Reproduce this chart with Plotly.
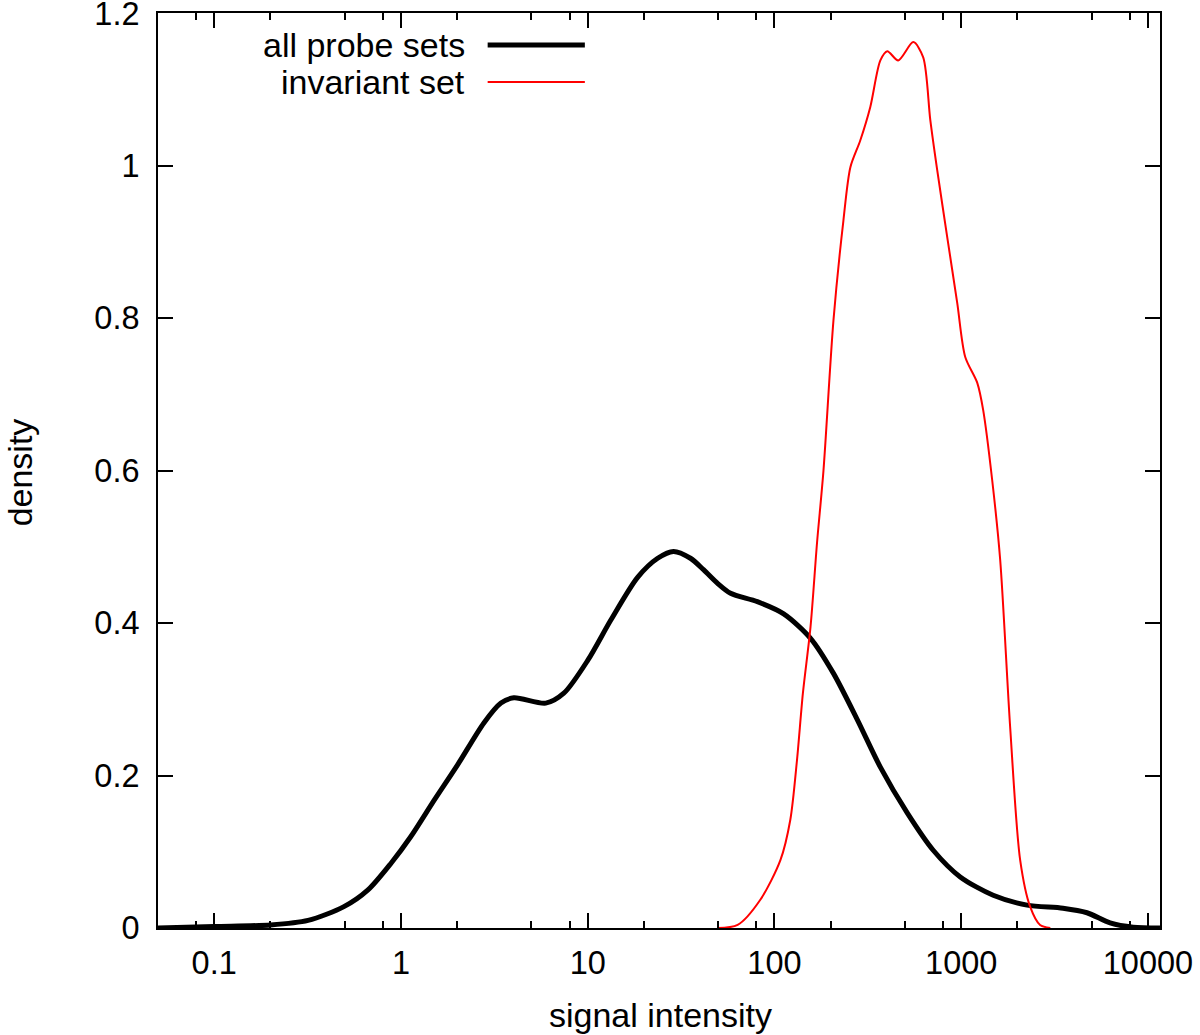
import plotly.graph_objects as go

# density of all probe sets (log-scale signal intensity)
all_x = [0.05, 0.1, 0.2, 0.318, 0.495, 0.666, 0.885, 1.13, 1.51, 2.01, 2.78, 3.43, 4.02,
         5.96, 7.45, 10, 13.3, 18.5, 23.7, 28.8, 35.5, 41.7, 49.6, 58.2, 81, 112, 156, 207,
         278, 369, 514, 708, 988, 1483, 2254, 3509, 4717, 6270, 8318, 11600]
all_y = [0.0, 0.002, 0.004, 0.01, 0.028, 0.05, 0.085, 0.12, 0.168, 0.214, 0.269, 0.295, 0.302,
         0.295, 0.308, 0.351, 0.404, 0.46, 0.485, 0.494, 0.485, 0.47, 0.452, 0.439, 0.428,
         0.412, 0.38, 0.334, 0.273, 0.211, 0.151, 0.102, 0.067, 0.043, 0.030, 0.026, 0.020,
         0.0066, 0.001, 0.0]

# density of the invariant set
inv_x = [49.6, 63.5, 84, 107.6, 121.6, 132, 142, 156, 169, 183, 207, 234, 255, 288, 326,
         369, 402, 460, 554, 626, 683, 744, 842, 952, 1051, 1219, 1312, 1466, 1617,
         1828, 2069, 2339, 2645, 3000]
inv_y = [0.0, 0.004, 0.037, 0.089, 0.142, 0.22, 0.308, 0.395, 0.505, 0.6, 0.797, 0.928, 0.998,
         1.033, 1.077, 1.138, 1.150, 1.138, 1.162, 1.142, 1.06, 0.994, 0.906, 0.82, 0.749,
         0.715, 0.679, 0.587, 0.483, 0.264, 0.089, 0.028, 0.004, 0.0]

x_ticks = [0.1, 1, 10, 100, 1000, 10000]
x_tick_labels = ['0.1', '1', '10', '100', '1000', '10000']
x_minor = [0.08, 0.2, 0.5, 0.8, 2, 5, 8, 20, 50, 80, 200, 500, 800, 2000, 5000, 8000]
y_ticks = [0, 0.2, 0.4, 0.6, 0.8, 1, 1.2]
y_tick_labels = ['0', '0.2', '0.4', '0.6', '0.8', '1', '1.2']

FONT = 'Liberation Sans, Arial, sans-serif'

fig = go.Figure()
fig.add_trace(go.Scatter(name='all probe sets', x=all_x, y=all_y, mode='lines',
                         line=dict(color='black', width=5, shape='spline', smoothing=0.8)))
fig.add_trace(go.Scatter(name='invariant set', x=inv_x, y=inv_y, mode='lines',
                         line=dict(color='#ff0000', width=2, shape='spline', smoothing=0.8)))

axis_common = dict(showgrid=False, zeroline=False, showline=True, linecolor='black',
                   linewidth=2, mirror='ticks', ticks='inside', tickwidth=2,
                   ticklen=15, tickcolor='black', ticklabeloverflow='allow',
                   automargin=False,
                   tickfont=dict(family=FONT, size=32.5, color='black'))

fig.update_xaxes(type='log', range=[-1.301, 4.0645], tickmode='array',
                 tickvals=x_ticks, ticktext=x_tick_labels, ticklabelstandoff=5,
                 minor=dict(tickmode='array', tickvals=x_minor, ticks='inside',
                            ticklen=7, tickwidth=2, tickcolor='black'),
                 **axis_common)
fig.update_yaxes(range=[0, 1.2002], tickmode='array', tickvals=y_ticks,
                 ticktext=y_tick_labels, ticklabelstandoff=10, **axis_common)

# gnuplot-style key: text right-aligned, sample line to its right
legend_rows = [('all probe sets', 'black', 5, 0.965), ('invariant set', '#ff0000', 2, 0.9246)]
shapes = []
annotations = []
for label, color, width, ypos in legend_rows:
    annotations.append(dict(text=label, x=0.308, y=ypos, xref='paper', yref='paper',
                            xanchor='right', yanchor='middle', showarrow=False,
                            font=dict(family=FONT, size=34, color='black')))
    shapes.append(dict(type='line', xref='paper', yref='paper', x0=0.329, x1=0.426,
                       y0=ypos, y1=ypos, line=dict(color=color, width=width)))

annotations.append(dict(text='signal intensity', x=0.501, y=-0.095, xref='paper', yref='paper',
                        xanchor='center', yanchor='middle', showarrow=False,
                        font=dict(family=FONT, size=34, color='black')))
annotations.append(dict(text='density', x=-0.1377, y=0.498, xref='paper', yref='paper',
                        xanchor='center', yanchor='middle', showarrow=False, textangle=-90,
                        font=dict(family=FONT, size=34, color='black')))

fig.update_layout(width=1200, height=1035, showlegend=False,
                  margin=dict(l=158, r=40, t=13, b=107),
                  plot_bgcolor='white', paper_bgcolor='white',
                  shapes=shapes, annotations=annotations)

# drop the default 8px body margin so the figure fills the window exactly
fig.write_html('out.html', config={'displayModeBar': False},
               post_script="document.body.style.margin='0';")
